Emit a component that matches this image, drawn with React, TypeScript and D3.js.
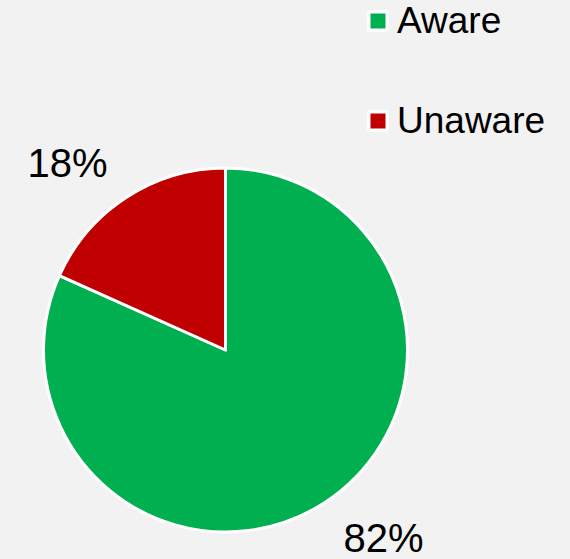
import React from "react";
import * as d3 from "d3";

const categories = ["Aware", "Unaware"];
const values = [81.7, 18.3];
const colors = ["#00b050", "#c00000"];

const W = 570;
const H = 559;
const cx = 225.5;
const cy = 350;
const R = 182;

export default function App() {
  const pie = d3.pie<number>().sort(null).value((d) => d);
  const arcs = pie(values);
  const arc = d3.arc<d3.PieArcDatum<number>>().innerRadius(0).outerRadius(R);
  const total = d3.sum(values);
  const fmt = d3.format(".0%");
  const labelR = 245;
  const angleShift = (7.2 * Math.PI) / 180;
  const fontFamily = "'Liberation Sans', Arial, sans-serif";

  return (
    <div style={{ position: "fixed", left: 0, top: 0 }}>
      <svg width={W} height={H} style={{ display: "block" }}>
        <rect width={W} height={H} fill="#f2f2f2" />
        <g transform={`translate(${cx},${cy})`}>
          {arcs.map((a, i) => (
            <path
              key={categories[i]}
              d={arc(a) || ""}
              fill={colors[i]}
              stroke="#ffffff"
              strokeWidth={3}
              strokeLinejoin="round"
            />
          ))}
          {arcs.map((a, i) => {
            const mid = (a.startAngle + a.endAngle) / 2 - angleShift;
            const x = labelR * Math.sin(mid);
            const y = -labelR * Math.cos(mid);
            return (
              <text
                key={"l" + i}
                x={x}
                y={y + 14.5}
                textAnchor="middle"
                fontSize={40}
                fontFamily={fontFamily}
                fill="#000"
              >
                {fmt(values[i] / total)}
              </text>
            );
          })}
        </g>
        <g>
          {categories.map((c, i) => (
            <g key={"lg" + c} transform={`translate(367,${10 + i * 100})`}>
              <rect width={22} height={22} rx={3} fill="#ffffff" />
              <rect x={3.5} y={3.5} width={15} height={15} fill={colors[i]} />
              <text
                x={30}
                y={23}
                fontSize={37}
                fontFamily={fontFamily}
                fill="#000"
              >
                {c}
              </text>
            </g>
          ))}
        </g>
      </svg>
    </div>
  );
}
